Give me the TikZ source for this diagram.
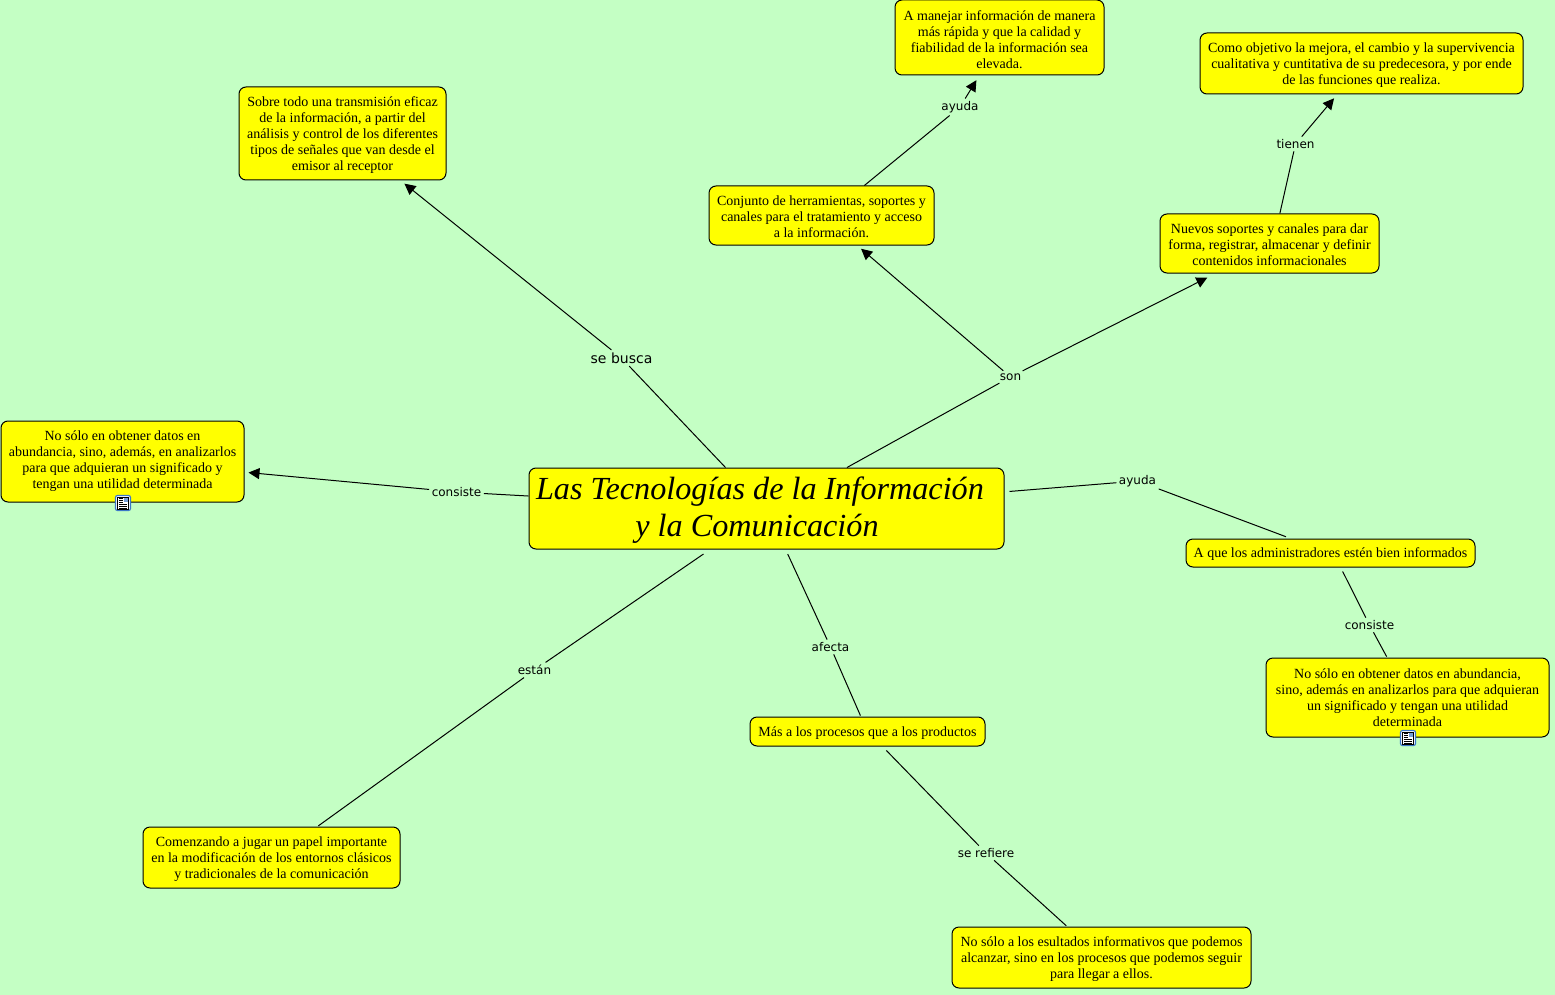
\documentclass[tikz,border=0pt]{standalone}
\usepackage{fontspec}
\setmainfont{Liberation Serif}
\newfontfamily\lblfont{DejaVu Sans}
\usetikzlibrary{arrows.meta}
\definecolor{bgmint}{RGB}{196,255,196}
\definecolor{boxyellow}{RGB}{255,255,0}
\definecolor{iconblue}{RGB}{60,120,200}
\newcommand\firstln[1]{\rule{0pt}{#1pt}}
\newcommand\lastln{\rule[-3pt]{0pt}{3pt}}
\tikzset{
  boxbase/.style={draw=black,fill=boxyellow,line width=1pt,rounded corners=7pt,inner sep=0pt,align=center},
  concept/.style={boxbase,font=\fontsize{14}{16}\selectfont},
  titleconcept/.style={boxbase,font=\itshape\fontsize{32.2}{37}\selectfont},
  linkword/.style={inner sep=2.5pt,font=\lblfont\fontsize{12}{14}\selectfont},
  conn/.style={line width=1pt,black},
  arrowconn/.style={conn,-{Triangle[length=11pt,width=11pt]}},
  docicon/.style={draw=iconblue,fill=white,line width=1.2pt,rounded corners=2pt,minimum width=15pt,minimum height=15pt,inner sep=0pt},
}
\begin{document}
\begin{tikzpicture}[x=1pt,y=-1pt]
\useasboundingbox (0,0) rectangle (1555,995);
\fill[bgmint] (0,0) rectangle (1555,995);
% concepts
\node[titleconcept,minimum width=475pt,minimum height=81pt] (c) at (766.5,508.5) {\firstln{25}Las Tecnologías de la Información\kern13pt\\y la Comunicación\kern19pt\rule[-7pt]{0pt}{7pt}};
\node[concept,minimum width=207pt,minimum height=93pt] (busca) at (342.5,133.5) {\firstln{13}Sobre todo una transmisión eficaz\\de la información, a partir del\\análisis y control de los diferentes\\tipos de señales que van desde el\\emisor al receptor\lastln};
\node[concept,minimum width=209pt,minimum height=75pt] (manejar) at (999.5,37.5) {\firstln{17}A manejar información de manera\\más rápida y que la calidad y\\fiabilidad de la información sea\\elevada.\lastln};
\node[concept,minimum width=323pt,minimum height=61pt] (objetivo) at (1361.5,63.5) {\firstln{13}Como objetivo la mejora, el cambio y la supervivencia\\cualitativa y cuntitativa de su predecesora, y por ende\\de las funciones que realiza.\lastln};
\node[concept,minimum width=225pt,minimum height=59pt] (conjunto) at (821.5,215.5) {\firstln{15}Conjunto de herramientas, soportes y\\canales para el tratamiento y acceso\\a la información.\lastln};
\node[concept,minimum width=219pt,minimum height=59pt] (nuevos) at (1269.5,243.5) {\firstln{15}Nuevos soportes y canales para dar\\forma, registrar, almacenar y definir\\contenidos informacionales\lastln};
\node[concept,minimum width=243pt,minimum height=81pt] (nosolo1) at (122.5,461.5) {No sólo en obtener datos en\\abundancia, sino, además, en analizarlos\\para que adquieran un significado y\\tengan una utilidad determinada\lastln};
\node[concept,minimum width=289pt,minimum height=28pt] (admin) at (1330.5,553) {\firstln{12}A que los administradores estén bien informados\lastln};
\node[concept,minimum width=283pt,minimum height=79pt] (nosolo2) at (1407.5,697.5) {\firstln{13}No sólo en obtener datos en abundancia,\\sino, además en analizarlos para que adquieran\\un significado y tengan una utilidad\\determinada\lastln};
\node[concept,minimum width=235pt,minimum height=29pt] (mas) at (867.5,731.5) {\firstln{13}Más a los procesos que a los productos\lastln};
\node[concept,minimum width=257pt,minimum height=61pt] (comenzando) at (271.5,857.5) {\firstln{13}Comenzando a jugar un papel importante\\en la modificación de los entornos clásicos\\y tradicionales de la comunicación\lastln};
\node[concept,minimum width=299pt,minimum height=61pt] (nosolo3) at (1101.5,957.5) {\firstln{13}No sólo a los esultados informativos que podemos\\alcanzar, sino en los procesos que podemos seguir\\para llegar a ellos.\lastln};
% linking words
\node[linkword,font=\lblfont\fontsize{14}{16}\selectfont] (lbusca) at (621.5,358) {se busca};
\node[linkword] (lson) at (1010.5,377) {son};
\node[linkword] (layuda) at (960,107) {ayuda};
\node[linkword] (ltienen) at (1295.5,144) {tienen};
\node[linkword] (lconsiste) at (456.5,492) {consiste};
\node[linkword] (layudab) at (1137.5,481) {ayuda};
\node[linkword] (lconsisteb) at (1369.5,625) {consiste};
\node[linkword] (lafecta) at (830.5,647) {afecta};
\node[linkword] (lestan) at (534.5,670) {están};
\node[linkword] (lrefiere) at (986,853) {se refiere};
% connectors
\draw[conn] (lbusca) -- (c.135);
\draw[arrowconn,shorten >=5pt] (lbusca) -- (busca.-39);
\draw[conn] (lson) -- (c.27);
\draw[arrowconn,shorten >=5pt] (lson) -- (conjunto.-40.5);
\draw[arrowconn,shorten >=9pt] (lson) -- (nuevos.-151.6);
\draw[conn] (layuda) -- (conjunto.35.4);
\draw[arrowconn,shorten >=5.5pt] (layuda) -- (manejar.-118.7);
\draw[conn] (ltienen) -- (nuevos.71.2);
\draw[arrowconn,shorten >=5pt] (ltienen) -- (objetivo.-128.2);
\draw[conn] (lconsiste) -- (c.177);
\draw[arrowconn,shorten >=4pt] (lconsiste) -- (nosolo1.-5.2);
\draw[conn,shorten >=5pt] (layudab) -- (c.4.3);
\draw[conn,shorten >=5pt] (layudab) -- (admin.160);
\draw[conn,shorten >=4.5pt] (lconsisteb) -- (admin.-55.8);
\draw[conn,shorten >=1pt] (lconsisteb) -- (nosolo2.117.4);
\draw[conn,shorten >=5pt] (lafecta) -- (c.-65.4);
\draw[conn,shorten >=1pt] (lafecta) -- (mas.114);
\draw[conn,shorten >=8pt] (lestan) -- (c.-144.4);
\draw[conn,shorten >=1pt] (lestan) -- (comenzando.34);
\draw[conn,shorten >=5.5pt] (lrefiere) -- (mas.-45);
\draw[conn,shorten >=1pt] (lrefiere) -- (nosolo3.138.5);
% resource icons
\foreach \ix/\iy/\nm in {123/503/icona,1408/738/iconb}{
  \node[docicon] (\nm) at (\ix,\iy) {};
  \draw[black,line width=.7pt,fill=white] (\ix-5.5,\iy-6) rectangle (\ix+5.5,\iy+6);
  \fill[iconblue!70] (\ix+.5,\iy-5) rectangle (\ix+4.5,\iy-1);
  \foreach \d in {-4.5,-2.5,-.5}{\draw[black,line width=.6pt] (\ix-4,\iy+\d) -- (\ix-.5,\iy+\d);}
  \foreach \d in {1.2,3,4.8}{\draw[black,line width=.6pt] (\ix-4,\iy+\d) -- (\ix+4,\iy+\d);}
}
\end{tikzpicture}
\end{document}
